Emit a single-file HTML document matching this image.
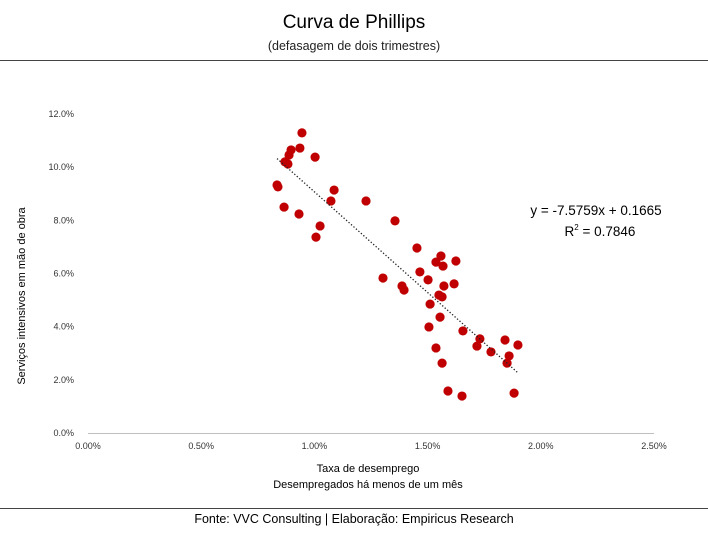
<!DOCTYPE html>
<html><head><meta charset="utf-8"><style>
body{margin:0;background:#fff;font-family:"Liberation Sans",sans-serif}
</style></head><body>
<svg width="708" height="528" id="c" xmlns="http://www.w3.org/2000/svg" font-family="Liberation Sans, sans-serif">
<text x="354" y="28" text-anchor="middle" font-size="19" fill="#000">Curva de Phillips</text>
<text x="354" y="50" text-anchor="middle" font-size="12.5" fill="#222">(defasagem de dois trimestres)</text>
<line x1="0" y1="60.5" x2="708" y2="60.5" stroke="#444"/>
<line x1="0" y1="508.5" x2="708" y2="508.5" stroke="#444"/>
<text x="354" y="523" text-anchor="middle" font-size="12.5" fill="#000">Fonte: VVC Consulting | Elaboração: Empiricus Research</text>
<text x="368" y="472" text-anchor="middle" font-size="11" fill="#000">Taxa de desemprego</text>
<text x="368" y="488" text-anchor="middle" font-size="11" fill="#000">Desempregados  há menos de um mês</text>
<text transform="translate(25,296) rotate(-90)" text-anchor="middle" font-size="11" fill="#000">Serviços intensivos em mão de obra</text>
<text x="596" y="215" text-anchor="middle" font-size="13.5" fill="#000">y = -7.5759x + 0.1665</text>
<text x="600" y="236" text-anchor="middle" font-size="13.5" fill="#000">R<tspan font-size="8" dy="-6">2</tspan><tspan dy="6"> = 0.7846</tspan></text>
<g id="g"></g>
</svg>
<script>
const xTicks=[0,0.5,1,1.5,2,2.5];
const yTicks=[0,2,4,6,8,10,12];
const unemp=[0.945,0.936,0.897,0.888,0.870,0.883,1.003,0.835,0.839,1.087,1.073,0.866,0.932,1.025,1.007,1.228,1.356,1.303,1.453,1.559,1.537,1.568,1.625,1.466,1.502,1.387,1.396,1.572,1.617,1.550,1.564,1.511,1.555,1.506,1.656,1.731,1.718,1.780,1.842,1.899,1.860,1.851,1.537,1.564,1.590,1.652,1.882];
const services=[11.29,10.72,10.65,10.46,10.20,10.12,10.38,9.33,9.26,9.14,8.73,8.50,8.24,7.79,7.37,8.73,7.98,5.83,6.96,6.66,6.43,6.28,6.47,6.06,5.76,5.53,5.38,5.53,5.61,5.19,5.12,4.85,4.36,3.99,3.84,3.54,3.27,3.05,3.50,3.31,2.90,2.63,3.20,2.63,1.58,1.39,1.50,1.77];
const slope=-7.5759, intercept=0.1665;
const X=v=>88+v*226.4, Y=v=>433-v*26.58;
const NS="http://www.w3.org/2000/svg", g=document.getElementById('g');
function mk(t,a){const e=document.createElementNS(NS,t);for(const k in a)e.setAttribute(k,a[k]);g.appendChild(e);return e;}
let ax=mk('line',{x1:88,y1:433.5,x2:654,y2:433.5,stroke:'#bfbfbf'});


xTicks.forEach(v=>{const t=mk('text',{x:X(v),y:449,'text-anchor':'middle','font-size':9,fill:'#333'});t.textContent=v.toFixed(2)+'%';

});
yTicks.forEach(v=>{const t=mk('text',{x:74,y:Y(v)+3,'text-anchor':'end','font-size':9,fill:'#333'});t.textContent=v.toFixed(1)+'%';

});
const n=Math.min(unemp.length,services.length);
for(let i=0;i<n;i++){const c=mk('circle',{cx:X(unemp[i]),cy:Y(services[i]),r:4.6,fill:'#c00000'});

}
const xs=unemp.slice(0,n),x0=Math.min(...xs),x1=Math.max(...xs);
const f=x=>(slope*x/100+intercept)*100;
const tl=mk('line',{x1:X(x0),y1:Y(f(x0)),x2:X(x1),y2:Y(f(x1)),stroke:'#222','stroke-width':1.3,'stroke-dasharray':'1.3 2'});


</script>
</body></html>
